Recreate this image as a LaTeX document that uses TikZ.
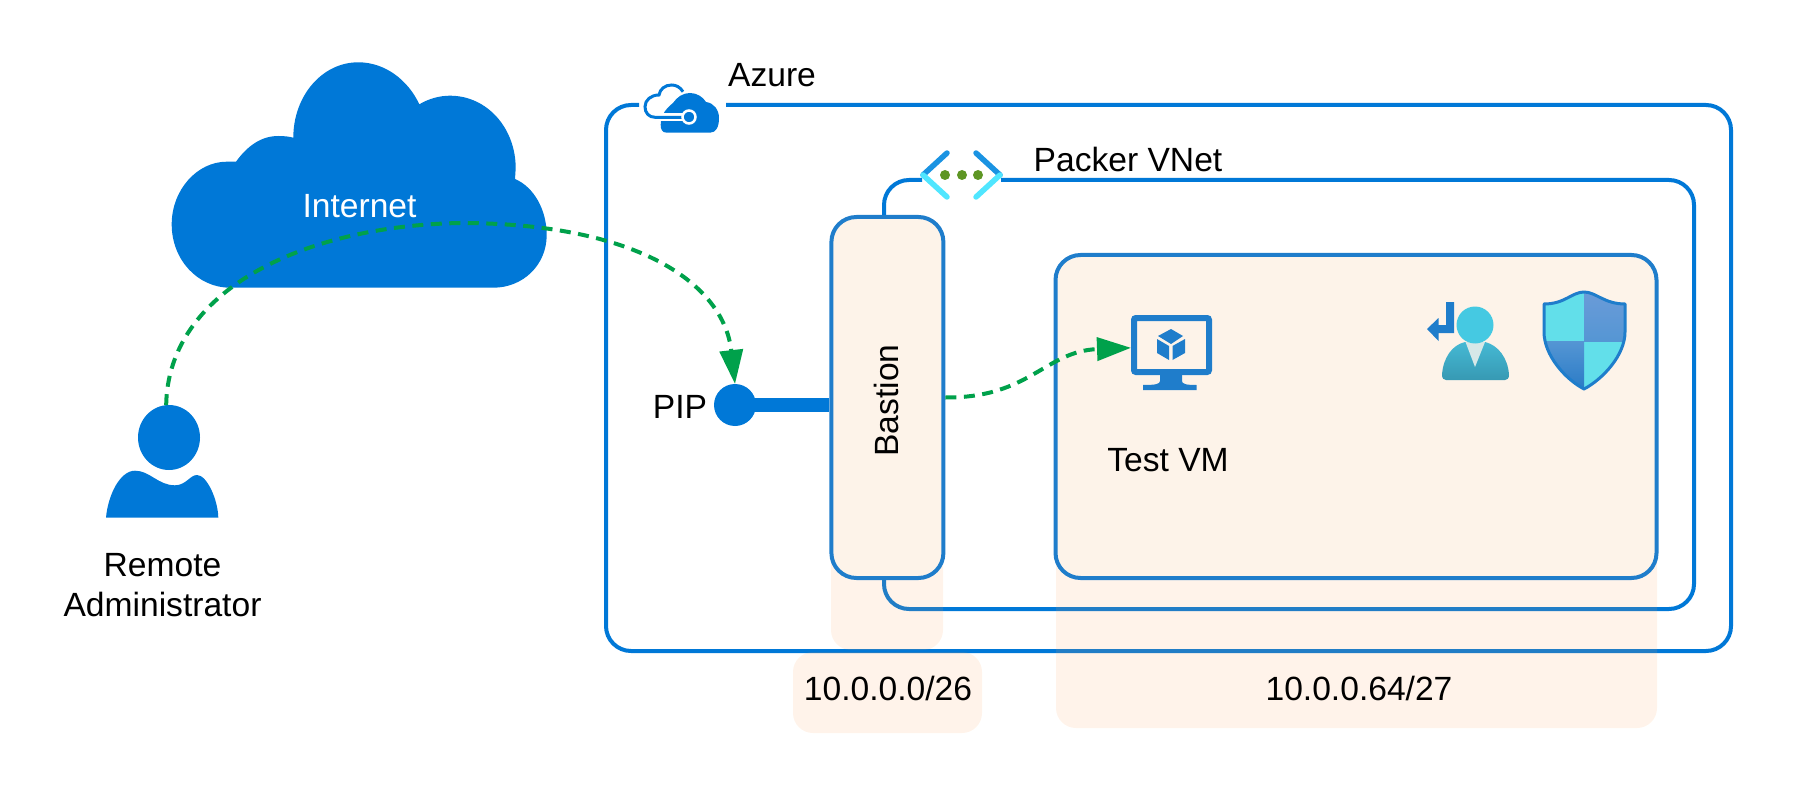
\documentclass[tikz,border=0pt]{standalone}
\usepackage{fontspec}
\setmainfont{Liberation Sans}
\usetikzlibrary{arrows.meta,shapes.geometric}
\newcommand{\figuresize}{1pt}
\definecolor{azureblue}{HTML}{0078D7}
\definecolor{boxblue}{HTML}{1F7DCB}
\definecolor{paleband}{HTML}{FDF3E9}
\definecolor{bandtint}{RGB}{255,165,90}
\definecolor{linkgreen}{HTML}{00A14B}
\definecolor{chevblue}{HTML}{1A93E2}
\definecolor{chevcyan}{HTML}{50E6FF}
\definecolor{dotgreen}{HTML}{5E9624}
\definecolor{shieldcyan}{HTML}{62DFEA}
\definecolor{shieldtop}{HTML}{6A9BD8}
\definecolor{shieldlow}{HTML}{5596D4}
\definecolor{shieldend}{HTML}{2A7BC6}
\definecolor{userhead}{HTML}{45C9E2}
\definecolor{usertop}{HTML}{45B9D4}
\definecolor{userlow}{HTML}{3799B3}
\definecolor{usertie}{HTML}{D6E8E8}
\tikzset{
	textlabel/.style={font=\fontsize{33.6}{40}\selectfont, inner sep=0pt, anchor=base, align=center},
	frameline/.style={draw=azureblue, line width=4pt, rounded corners=25pt},
	subnetbox/.style={draw=boxblue, fill=paleband, line width=4pt, rounded corners=25pt},
	bandbox/.style={fill=bandtint, fill opacity=0.13, rounded corners=20pt},
	dashedlink/.style={draw=linkgreen, line width=4pt, dash pattern=on 11pt off 7.5pt},
	linkarrow/.style={-{Triangle[length=34pt,width=23pt,fill=linkgreen,sep=0pt]}},
}

\begin{document}
\begin{tikzpicture}[x=\figuresize,y=-\figuresize]
	\useasboundingbox (0,0) rectangle (1809,802);

	% frames
	\draw[frameline] (726,105) -- (1731,105) -- (1731,651) -- (606,651) -- (606,105) -- (639,105);
	\draw[frameline] (1001,180) -- (1694,180) -- (1694,609) -- (884,609) -- (884,180) -- (922,180);

	% address bands
	\fill[bandbox] (831,300) rectangle (943,650);
	\fill[bandbox] (793,652) rectangle (982,733);
	\fill[bandbox] (1056,300) rectangle (1657,728);

	\node[subnetbox, minimum width=112pt, minimum height=361pt, font=\fontsize{33.6}{40}\selectfont, inner sep=0pt] (Bastion) at (887.4,397.5) {\rotatebox{90}{\raisebox{2pt}{Bastion}\hspace{6pt}}};
	\node[subnetbox, minimum width=601pt, minimum height=323pt] (Subnet) at (1356,416.5) {};

	% internet cloud
	\fill[azureblue] (230,287.7) .. controls (198,287.7) and (171.7,260) .. (171.7,224.3)
		.. controls (171.7,190) and (197,161.7) .. (226.7,161.7) -- (236,161.7)
		.. controls (248,145) and (262,136) .. (278.3,136)
		.. controls (284,136) and (289,136.5) .. (293.3,137.7)
		.. controls (293.3,96) and (322,62.3) .. (358.3,62.3)
		.. controls (385,62.3) and (408,80) .. (419.3,104.3)
		.. controls (429,98.5) and (440,95.7) .. (450,95.7)
		.. controls (487,95.7) and (515.7,128) .. (515.7,168.3) -- (515,179)
		.. controls (534,187) and (546.7,210) .. (546.7,235)
		.. controls (546.7,265) and (523,287.7) .. (493.3,287.7) -- cycle;
	\node[textlabel, text=white] (Internet) at (359.5,217.5) {Internet};

	% remote administrator
	\node[ellipse, fill=azureblue, minimum width=62pt, minimum height=65pt, inner sep=0pt, outer sep=0pt] (AdminHead) at (169,437.5) {};
	\fill[azureblue] (106,517.7) .. controls (108,495) and (120,470.7) .. (135,470.7)
		.. controls (150,470.7) and (158,485.3) .. (175,485.3)
		.. controls (186,485.3) and (190,475) .. (197,475)
		.. controls (207,475) and (218,500) .. (218.3,517.7) -- cycle;
	\node[textlabel] (Admin) at (162.5,616) {Remote\\Administrator};

	% azure icon
	\fill[azureblue] (666.7,132.7) .. controls (662,132.7) and (660.7,129) .. (660.7,125)
		.. controls (660.7,117) and (664,110) .. (673,103)
		.. controls (677,97) and (683,93) .. (690,93)
		.. controls (697,93) and (703,97) .. (706,102)
		.. controls (714,103) and (719,110) .. (719,118)
		.. controls (719,127) and (716,132.7) .. (710,132.7) -- cycle;
	\draw[white, line width=8pt] (655,117.3) -- (685,117.3);
	\draw[azureblue, line width=3pt] (683,91.7) .. controls (680,87) and (676,85) .. (671.7,85)
		.. controls (665,85) and (660,89) .. (659,95)
		.. controls (651,95) and (645,100) .. (645,106.7)
		.. controls (645,113) and (649,117.3) .. (655,117.3) -- (685,117.3);
	\node[circle, draw=white, fill=azureblue, line width=2.5pt, minimum size=13pt, inner sep=0pt] (AzureDot) at (689,117) {};
	\node[textlabel] (Azure) at (772,87) {Azure};

	% vnet icon
	\draw[chevblue, line width=5.5pt, line cap=round] (947,153) -- (923,175);
	\draw[chevcyan, line width=5.5pt, line cap=round] (923,175) -- (947,197);
	\draw[chevblue, line width=5.5pt, line cap=round] (976,153) -- (1000,175);
	\draw[chevcyan, line width=5.5pt, line cap=round] (1000,175) -- (976,197);
	\foreach \dotx in {945,962,978}
		\fill[dotgreen] (\dotx,175) circle (5);
	\node[textlabel] (Packer) at (1128,171.5) {Packer VNet};

	% pip
	\node[circle, fill=azureblue, minimum size=42pt, inner sep=0pt, outer sep=0pt] (PIP) at (735,405) {};
	\draw[azureblue, line width=14pt] (PIP.center) -- (PIP.center -| Bastion.west);
	\node[textlabel] (PIPLabel) at (680,418) {PIP};

	% test vm
	\node[draw=boxblue, line width=6pt, rounded corners=2pt, minimum width=75pt, minimum height=54pt] (VM) at (1171.5,345) {};
	\fill[boxblue] (1160,375) -- (1182,375) -- (1182,381) .. controls (1182,384) and (1186,385) .. (1196.5,385) -- (1196.5,390) -- (1143,390) -- (1143,385) .. controls (1156,385) and (1160,384) .. (1160,381) -- cycle;
	\fill[boxblue] (1171,329) -- (1183,336) -- (1171,344) -- (1158,336) -- cycle;
	\fill[boxblue] (1157,339) -- (1169,346) -- (1169,360) -- (1157,353) -- cycle;
	\fill[boxblue] (1172.5,346) -- (1185,339) -- (1185,353) -- (1172.5,360) -- cycle;
	\node[textlabel] (VMLabel) at (1168,471) {Test VM};

	% identity icon
	\fill[boxblue] (1446,302) -- (1454,302) -- (1454,333) -- (1438.5,333) -- (1438.5,341) -- (1427,329) -- (1438.5,318) -- (1438.5,325) -- (1446,325) -- cycle;
	\shade[top color=usertop, bottom color=userlow] (1442,375) .. controls (1443,358) and (1452,345) .. (1465,342) -- (1485,342)
		.. controls (1498,345) and (1508,358) .. (1509,375) .. controls (1509,378.5) and (1507,380) .. (1505,380) -- (1446,380)
		.. controls (1444,380) and (1442,378.5) .. (1442,375) -- cycle;
	\fill[usertie] (1465.5,342) -- (1485,342) -- (1475,367) -- cycle;
	\fill[userhead] (1475,325) ellipse (18.5 and 18.5);

	% shield icon
	\begin{scope}
	\clip (1584,292) .. controls (1572,292) and (1565,304) .. (1544,304) -- (1544,332)
		.. controls (1544,355) and (1565,379) .. (1584,389)
		.. controls (1603,379) and (1625,355) .. (1625,332) -- (1625,304)
		.. controls (1604,304) and (1596,292) .. (1584,292) -- cycle;
	\fill[shieldcyan] (1544,292) rectangle (1584,341);
	\fill[shieldcyan] (1584,341) rectangle (1625,389);
	\shade[top color=shieldtop, bottom color=shieldlow] (1584,292) rectangle (1625,341);
	\shade[top color=shieldlow, bottom color=shieldend] (1544,341) rectangle (1584,389);
	\end{scope}
	\draw[boxblue, line width=3pt, line join=round] (1584,292) .. controls (1572,292) and (1565,304) .. (1544,304) -- (1544,332)
		.. controls (1544,355) and (1565,379) .. (1584,389)
		.. controls (1603,379) and (1625,355) .. (1625,332) -- (1625,304)
		.. controls (1604,304) and (1596,292) .. (1584,292) -- cycle;

	% links
	\draw[dashedlink, linkarrow] (AdminHead.95) .. controls (168,292) and (300,226) .. (460,223)
		.. controls (640,223) and (724,285) .. (PIP.north);
	\draw[dashedlink, linkarrow] (Bastion.east) .. controls (1030,398) and (1045,351) .. (VM.184);

	% band labels
	\node[textlabel] (LabelBastion) at (888,700) {10.0.0.0/26};
	\node[textlabel] (LabelVM) at (1359,700) {10.0.0.64/27};

\end{tikzpicture}
\end{document}
